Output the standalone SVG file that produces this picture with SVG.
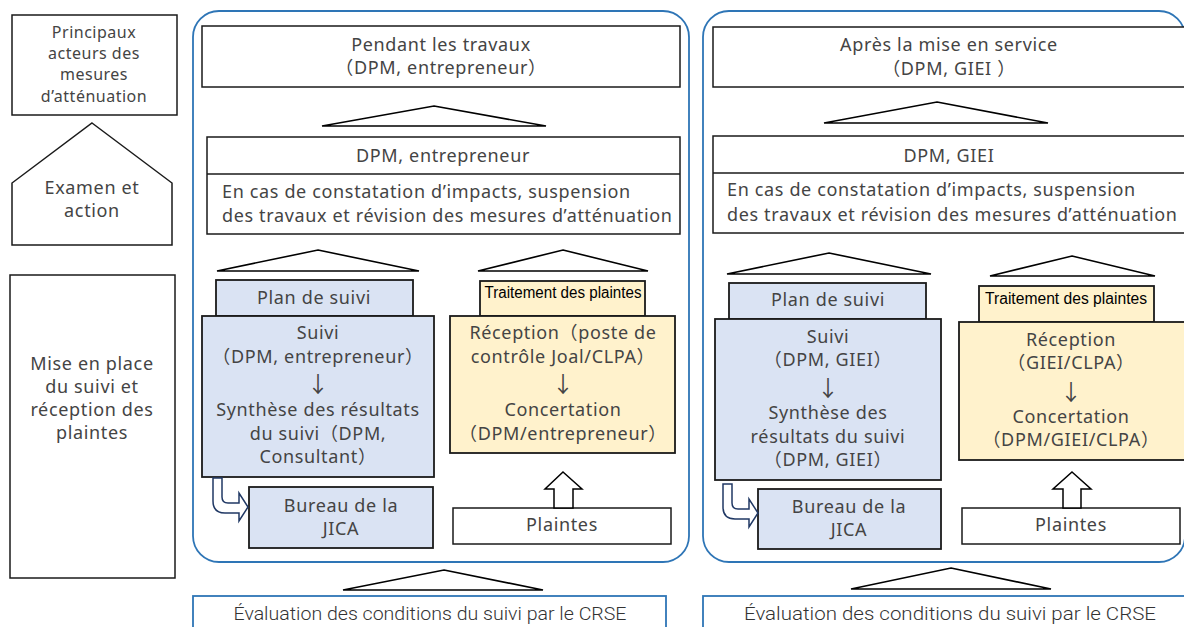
<svg xmlns="http://www.w3.org/2000/svg" width="1184" height="627" viewBox="0 0 1184 627">
<style>
.bx{fill:#fff;stroke:#1a1a1a;stroke-width:1.5}
.bl{fill:#dae3f3;stroke:#1a1a1a;stroke-width:1.8}
.ye{fill:#fff2cc;stroke:#1a1a1a;stroke-width:1.8}
.pn{fill:none;stroke:#2e75b6;stroke-width:1.8}
.pb{fill:#fff;stroke:#2e75b6;stroke-width:1.8}
.tri{fill:#fff;stroke:#000;stroke-width:1.6;stroke-linejoin:miter}
.ua{fill:#fff;stroke:#000;stroke-width:1.5}
.ba{fill:#fff;stroke:#203864;stroke-width:1.5}
text{font-family:"Noto Sans","Noto Sans CJK JP",sans-serif;font-size:18px;fill:#444;letter-spacing:0.65px}
.c{text-anchor:middle}
.s16{font-size:16px;letter-spacing:0.5px}
.ar{font-family:"Noto Sans CJK JP",sans-serif;font-size:22px;letter-spacing:0}
.tp{font-family:"Liberation Sans",Arial,sans-serif;font-size:16px;fill:#000;text-anchor:middle;letter-spacing:0}
.ev{font-family:"Roboto","Liberation Sans",sans-serif;font-weight:300;font-size:18px;text-anchor:middle;fill:#333;letter-spacing:0}
</style>

<g id="acteurs">
<rect class="bx" x="12" y="15" width="165" height="100"/>
<text class="c s16" x="94" y="38">Principaux</text>
<text class="c s16" x="94" y="59">acteurs des</text>
<text class="c s16" x="94" y="80">mesures</text>
<text class="c s16" x="94" y="102">d’atténuation</text>
</g>
<g id="examen">
<polygon class="bx" points="92,123 172,183 172,245 12,245 12,183"/>
<text class="c" x="92" y="194">Examen et</text>
<text class="c" x="92" y="217">action</text>
</g>
<g id="miseenplace">
<rect class="bx" x="10" y="275" width="165" height="303"/>
<text class="c" x="92" y="370">Mise en place</text>
<text class="c" x="92" y="393">du suivi et</text>
<text class="c" x="92" y="416">réception des</text>
<text class="c" x="92" y="439">plaintes</text>
</g>

<g id="panel-travaux">
<rect class="pn" x="193" y="11" width="496" height="551" rx="26"/>
</g>
<g id="pendant">
<rect class="bx" x="202" y="26" width="478" height="61"/>
<text class="c" x="441" y="51">Pendant les travaux</text>
<text class="c" x="441" y="74">（DPM, entrepreneur）</text>
</g>
<g id="dpm-entrepreneur">
<rect class="bx" x="207" y="137" width="473" height="97"/>
<line x1="207" y1="174" x2="680" y2="174" stroke="#1a1a1a" stroke-width="1.5"/>
<text class="c" x="443" y="162">DPM, entrepreneur</text>
<text x="222" y="198">En cas de constatation d’impacts, suspension</text>
<text x="222" y="222">des travaux et révision des mesures d’atténuation</text>
</g>
<g id="plan-suivi-1">
<rect class="bl" x="216" y="280" width="197" height="36"/>
<text class="c" x="314" y="304">Plan de suivi</text>
</g>
<g id="suivi-1">
<rect class="bl" x="202" y="316" width="232" height="161"/>
<text class="c" x="318" y="339">Suivi</text>
<text class="c" x="318" y="363">（DPM, entrepreneur）</text>
<text class="c ar" x="318" y="392">↓</text>
<text class="c" x="318" y="416">Synthèse des résultats</text>
<text class="c" x="318" y="440">du suivi（DPM,</text>
<text class="c" x="318" y="463">Consultant）</text>
</g>
<g id="traitement-1">
<rect class="ye" x="480" y="281" width="165" height="35"/>
<text class="tp" x="563" y="298" textLength="157" lengthAdjust="spacingAndGlyphs">Traitement des plaintes</text>
</g>
<g id="reception-1">
<rect class="ye" x="450" y="316" width="225" height="137"/>
<text class="c" x="563" y="339">Réception（poste de</text>
<text class="c" x="563" y="363">contrôle Joal/CLPA）</text>
<text class="c ar" x="563" y="392">↓</text>
<text class="c" x="563" y="416">Concertation</text>
<text class="c" x="563" y="440">（DPM/entrepreneur）</text>
</g>
<g id="bureau-1">
<rect class="bl" x="249" y="487" width="184" height="61"/>
<text class="c" x="341" y="512">Bureau de la</text>
<text class="c" x="341" y="535">JICA</text>
</g>
<g id="plaintes-1">
<rect class="bx" x="453" y="508" width="218" height="36"/>
<text class="c" x="562" y="531">Plaintes</text>
</g>

<g id="panel-service">
<rect class="pn" x="703" y="11" width="482" height="551" rx="26"/>
</g>
<g id="apres">
<rect class="bx" x="713" y="27" width="480" height="60"/>
<text class="c" x="949" y="51">Après la mise en service</text>
<text class="c" x="949" y="75">（DPM, GIEI ）</text>
</g>
<g id="dpm-giei">
<rect class="bx" x="713" y="136" width="480" height="97"/>
<line x1="713" y1="173" x2="1190" y2="173" stroke="#1a1a1a" stroke-width="1.5"/>
<text class="c" x="949" y="162">DPM, GIEI</text>
<text x="727" y="196">En cas de constatation d’impacts, suspension</text>
<text x="727" y="221">des travaux et révision des mesures d’atténuation</text>
</g>
<g id="plan-suivi-2">
<rect class="bl" x="729" y="283" width="197" height="36"/>
<text class="c" x="828" y="306">Plan de suivi</text>
</g>
<g id="suivi-2">
<rect class="bl" x="715" y="319" width="226" height="161"/>
<text class="c" x="828" y="343">Suivi</text>
<text class="c" x="828" y="366">（DPM, GIEI）</text>
<text class="c ar" x="828" y="396">↓</text>
<text class="c" x="828" y="419">Synthèse des</text>
<text class="c" x="828" y="443">résultats du suivi</text>
<text class="c" x="828" y="466">（DPM, GIEI）</text>
</g>
<g id="traitement-2">
<rect class="ye" x="979" y="286" width="175" height="36"/>
<text class="tp" x="1066" y="304" textLength="162" lengthAdjust="spacingAndGlyphs">Traitement des plaintes</text>
</g>
<g id="reception-2">
<rect class="ye" x="959" y="322" width="230" height="138"/>
<text class="c" x="1071" y="346">Réception</text>
<text class="c" x="1071" y="369">（GIEI/CLPA）</text>
<text class="c ar" x="1071" y="400">↓</text>
<text class="c" x="1071" y="423">Concertation</text>
<text class="c" x="1071" y="446">（DPM/GIEI/CLPA）</text>
</g>
<g id="bureau-2">
<rect class="bl" x="758" y="489" width="183" height="60"/>
<text class="c" x="849" y="513">Bureau de la</text>
<text class="c" x="849" y="536">JICA</text>
</g>
<g id="plaintes-2">
<rect class="bx" x="962" y="508" width="218" height="36"/>
<text class="c" x="1071" y="531">Plaintes</text>
</g>

<g id="crse-1">
<rect class="pb" x="193" y="596" width="473" height="50"/>
<text class="ev" x="430" y="620" textLength="393" lengthAdjust="spacingAndGlyphs">Évaluation des conditions du suivi par le CRSE</text>
</g>
<g id="crse-2">
<rect class="pb" x="703" y="596" width="490" height="50"/>
<text class="ev" x="950" y="620" textLength="412" lengthAdjust="spacingAndGlyphs">Évaluation des conditions du suivi par le CRSE</text>
</g>

<g id="connectors">
<polygon class="tri" points="434,106 546,126 322,126"/>
<polygon class="tri" points="318,250 419,271 217,271"/>
<polygon class="tri" points="563,250 648,271 478,271"/>
<polygon class="tri" points="937,102 1048,123 824,123"/>
<polygon class="tri" points="829,253 931,274 727,274"/>
<polygon class="tri" points="1072,256 1155,276 990,276"/>
<polygon class="tri" points="444,570 543,590 343,590"/>
<polygon class="tri" points="951,568 1051,589 851,589"/>
<path class="ua" d="M563,472 L582,489 L573,489 L573,508 L554,508 L554,489 L545,489 Z"/>
<path class="ua" d="M1072,472 L1091,489 L1081,489 L1081,508 L1063,508 L1063,489 L1053,489 Z"/>
<path id="bent-1" class="ba" d="M213,478 L213,501 Q213,513 225,513 L239,513 L239,521 L248,507 L239,493 L239,503 L228,503 Q222,503 222,497 L222,478 Z"/>
<path id="bent-2" class="ba" transform="translate(510,6)" d="M213,478 L213,501 Q213,513 225,513 L239,513 L239,521 L248,507 L239,493 L239,503 L228,503 Q222,503 222,497 L222,478 Z"/>
</g>
</svg>
